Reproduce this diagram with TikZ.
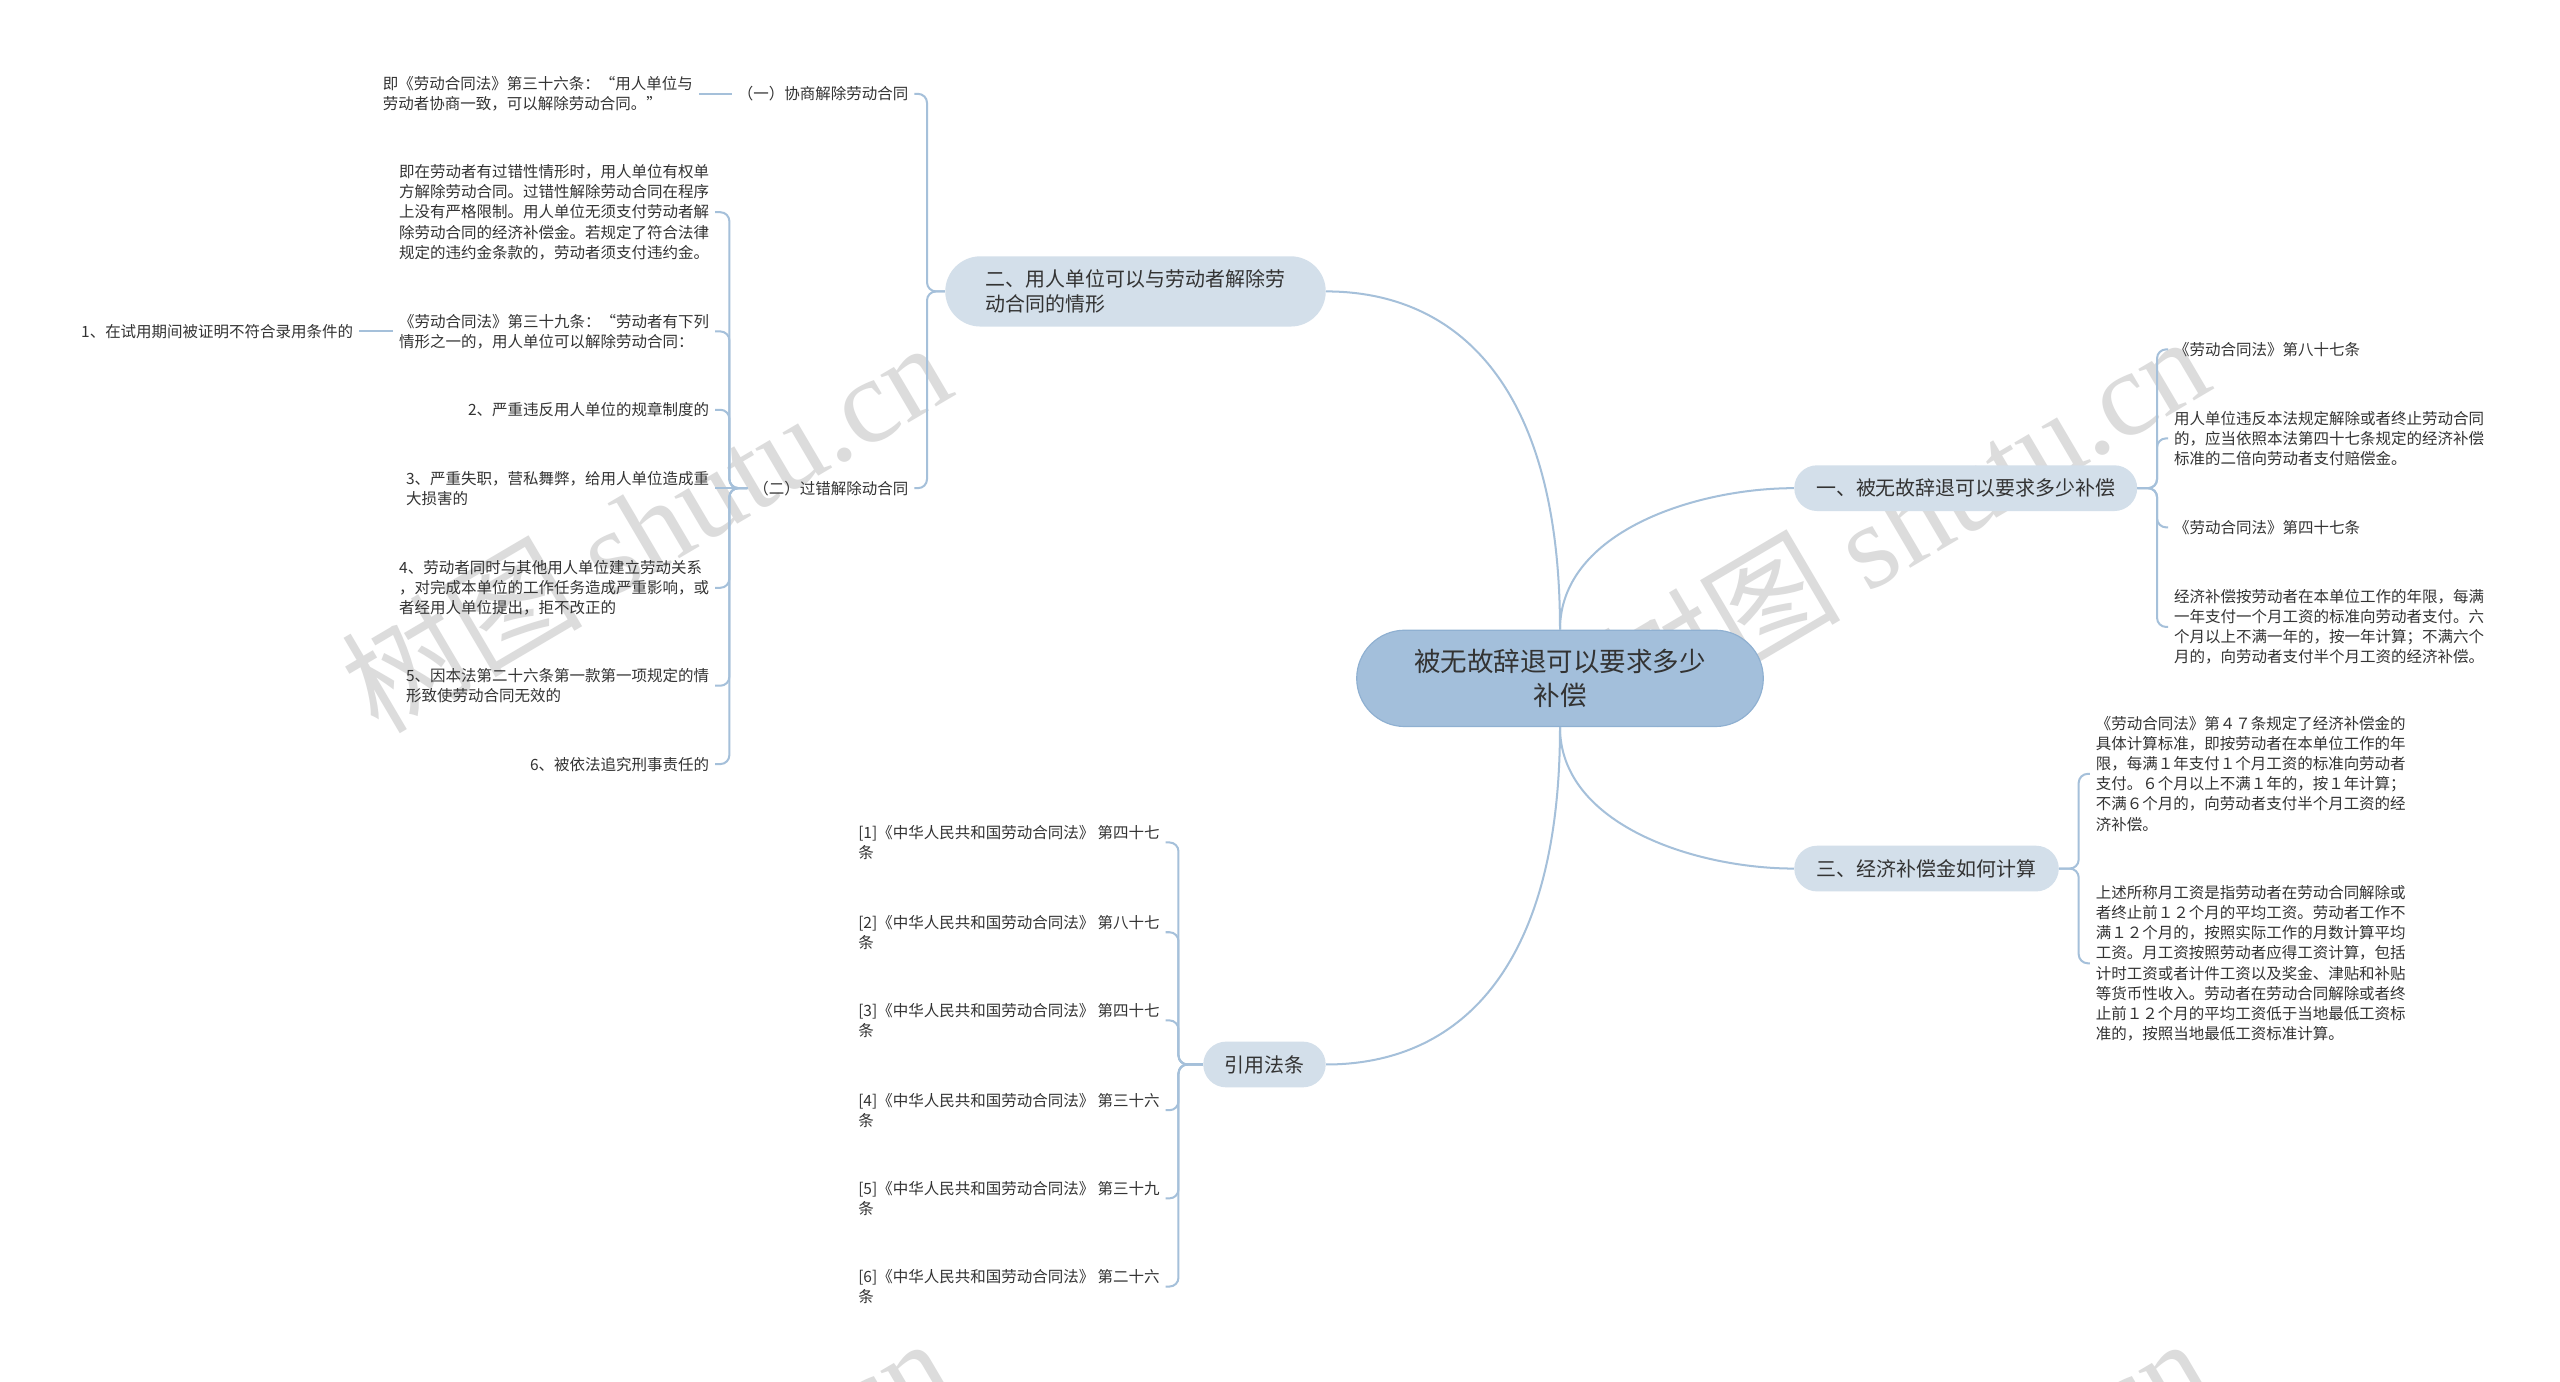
\documentclass[tikz,border=0pt]{standalone}
\usepackage{fontspec}
\setmainfont{Noto Sans CJK SC}
\newfontfamily\wmserif{Liberation Serif}
\definecolor{lc}{HTML}{A5C0DA}
\definecolor{rootc}{HTML}{A3BFDB}
\definecolor{rootb}{HTML}{8FB0D1}
\definecolor{l1c}{HTML}{D3DFEA}
\definecolor{tc}{HTML}{333333}
\definecolor{wmc}{HTML}{DCDCDC}
\begin{document}
\begin{tikzpicture}[x=0.04cm,y=-0.04cm,
  txt/.style={font=\fontsize{10.8}{14}\selectfont, text=tc, inner xsep=0.14cm, inner ysep=0pt, align=left},
  conn/.style={draw=lc, line width=1.4pt},
  rc/.style={rounded corners=0.22cm},
  l1/.style={fill=l1c, font=\fontsize{13.9}{18}\selectfont, text=tc, align=left, inner sep=0pt,
    minimum height=1.12cm, rounded corners=0.56cm},
  rootbox/.style={fill=rootc, draw=rootb, line width=0.8pt, font=\fontsize{18.5}{24}\selectfont, text=tc,
    align=center, inner sep=0pt, minimum width=9.96cm, minimum height=2.36cm, rounded corners=1.18cm},
  wm/.style={text=wmc, font=\fontsize{84}{90}\selectfont, inner sep=0pt}
]
\fill[white] (0,0) rectangle (1568,846);
\useasboundingbox (0,0) rectangle (1568,846);

% watermarks
\node[wm, rotate=30.5] (w1) at (395,322) {树图 {\wmserif shutu.cn}};
\node[wm, rotate=30.5] (w2) at (1166,318) {树图 {\wmserif shutu.cn}};
\node[wm, rotate=30.5] (w3) at (395,932) {树图 {\wmserif shutu.cn}};
\node[wm, rotate=30.5] (w4) at (1166,932) {树图 {\wmserif shutu.cn}};

% root and level 1
\node[rootbox] (root) at (955.5,415.5) {被无故辞退可以要求多少\\补偿};
\node[l1, minimum width=9.32cm, rounded corners=0.86cm, minimum height=1.72cm] (n2) at (695.5,178.5) {二、用人单位可以与劳动者解除劳\\动合同的情形};
\node[l1, minimum width=8.4cm] (n1) at (1204,299) {一、被无故辞退可以要求多少补偿};
\node[l1, minimum width=6.48cm] (n3) at (1180,532) {三、经济补偿金如何计算};
\node[l1, minimum width=3cm] (n4) at (774.5,652) {引用法条};

\draw[conn] (root.north) .. controls +(0,-150) and +(80,0) .. (n2.east);
\draw[conn] (root.north) .. controls +(0,-60) and +(-60,0) .. (n1.west);
\draw[conn] (root.south) .. controls +(0,60) and +(-60,0) .. (n3.west);
\draw[conn] (root.south) .. controls +(0,150) and +(80,0) .. (n4.east);

% left branch
\node[txt, anchor=east] (a1) at (560,57.5) {（一）协商解除劳动合同};
\node[txt, anchor=east] (a2) at (560,299) {（二）过错解除动合同};
\node[txt, anchor=east] (b1) at (428,57.5) {即《劳动合同法》第三十六条：“用人单位与\\劳动者协商一致，可以解除劳动合同。”};
\node[txt, anchor=east] (b2) at (438,130) {即在劳动者有过错性情形时，用人单位有权单\\方解除劳动合同。过错性解除劳动合同在程序\\上没有严格限制。用人单位无须支付劳动者解\\除劳动合同的经济补偿金。若规定了符合法律\\规定的违约金条款的，劳动者须支付违约金。};
\node[txt, anchor=east] (b3) at (438,203) {《劳动合同法》第三十九条：“劳动者有下列\\情形之一的，用人单位可以解除劳动合同：};
\node[txt, anchor=east] (b4) at (438,251) {2、严重违反用人单位的规章制度的};
\node[txt, anchor=east] (b5) at (438,299) {3、严重失职，营私舞弊，给用人单位造成重\\大损害的};
\node[txt, anchor=east] (b6) at (438,360) {4、劳动者同时与其他用人单位建立劳动关系\\，对完成本单位的工作任务造成严重影响，或\\者经用人单位提出，拒不改正的};
\node[txt, anchor=east] (b7) at (438,420) {5、因本法第二十六条第一款第一项规定的情\\形致使劳动合同无效的};
\node[txt, anchor=east] (b8) at (438,468) {6、被依法追究刑事责任的};
\node[txt, anchor=east] (c1) at (220,203) {1、在试用期间被证明不符合录用条件的};

\draw[conn, rc] (n2.west) -- ++(-11,0) |- (a1.east);
\draw[conn, rc] (n2.west) -- ++(-11,0) |- (a2.east);
\draw[conn] (a1.west) -- (b1.east);
\foreach \c in {b2,b3,b4,b6,b7,b8}{
  \draw[conn, rc] (a2.west) -- ++(-11,0) |- (\c.east);
}
\draw[conn] (a2.west) -- (b5.east);
\draw[conn] (b3.west) -- (c1.east);

% right branch 1
\node[txt, anchor=west] (d1) at (1328,214) {《劳动合同法》第八十七条};
\node[txt, anchor=west] (d2) at (1328,268.5) {用人单位违反本法规定解除或者终止劳动合同\\的，应当依照本法第四十七条规定的经济补偿\\标准的二倍向劳动者支付赔偿金。};
\node[txt, anchor=west] (d3) at (1328,323) {《劳动合同法》第四十七条};
\node[txt, anchor=west] (d4) at (1328,384) {经济补偿按劳动者在本单位工作的年限，每满\\一年支付一个月工资的标准向劳动者支付。六\\个月以上不满一年的，按一年计算；不满六个\\月的，向劳动者支付半个月工资的经济补偿。};
\foreach \c in {d1,d2,d3,d4}{
  \draw[conn, rc] (n1.east) -- ++(12,0) |- (\c.west);
}

% right branch 3
\node[txt, anchor=west] (e1) at (1280,474) {《劳动合同法》第４７条规定了经济补偿金的\\具体计算标准，即按劳动者在本单位工作的年\\限，每满１年支付１个月工资的标准向劳动者\\支付。６个月以上不满１年的，按１年计算；\\不满６个月的，向劳动者支付半个月工资的经\\济补偿。};
\node[txt, anchor=west] (e2) at (1280,590) {上述所称月工资是指劳动者在劳动合同解除或\\者终止前１２个月的平均工资。劳动者工作不\\满１２个月的，按照实际工作的月数计算平均\\工资。月工资按照劳动者应得工资计算，包括\\计时工资或者计件工资以及奖金、津贴和补贴\\等货币性收入。劳动者在劳动合同解除或者终\\止前１２个月的平均工资低于当地最低工资标\\准的，按照当地最低工资标准计算。};
\foreach \c in {e1,e2}{
  \draw[conn, rc] (n3.east) -- ++(12,0) |- (\c.west);
}

% references
\node[txt, anchor=east] (f1) at (714,516) {[1]《中华人民共和国劳动合同法》 第四十七\\条};
\node[txt, anchor=east] (f2) at (714,571) {[2]《中华人民共和国劳动合同法》 第八十七\\条};
\node[txt, anchor=east] (f3) at (714,625) {[3]《中华人民共和国劳动合同法》 第四十七\\条};
\node[txt, anchor=east] (f4) at (714,680) {[4]《中华人民共和国劳动合同法》 第三十六\\条};
\node[txt, anchor=east] (f5) at (714,734) {[5]《中华人民共和国劳动合同法》 第三十九\\条};
\node[txt, anchor=east] (f6) at (714,788) {[6]《中华人民共和国劳动合同法》 第二十六\\条};
\foreach \c in {f1,f2,f3,f4,f5,f6}{
  \draw[conn, rc] (n4.west) -- ++(-15,0) |- (\c.east);
}
\end{tikzpicture}
\end{document}
